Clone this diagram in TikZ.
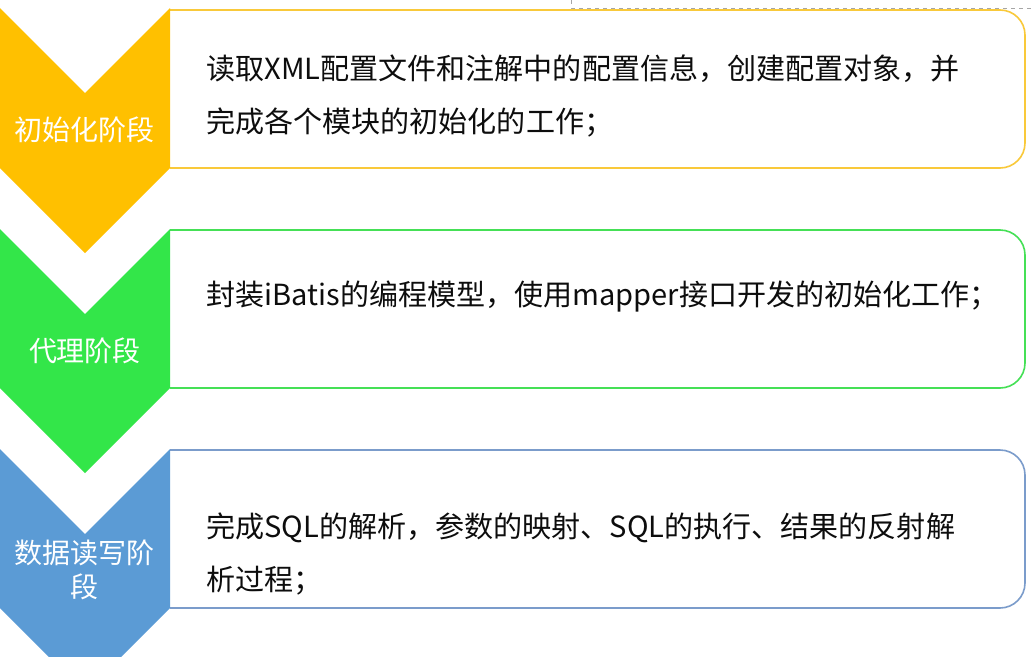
\documentclass[tikz,border=0pt]{standalone}
\usepackage{fontspec}
\usepackage{tikz}
\newfontfamily\cjk{Noto Sans CJK SC}
\definecolor{stageyellow}{HTML}{FFC000}
\definecolor{stagegreen}{HTML}{33E649}
\definecolor{stageblue}{HTML}{5B9BD5}
\definecolor{lineyellow}{HTML}{F9C93A}
\definecolor{linegreen}{HTML}{45E056}
\definecolor{lineblue}{HTML}{7B9CCB}
\definecolor{bodyblack}{HTML}{0D0D0D}
\tikzset{
  boxline/.style={line width=1.2pt},
  labeltext/.style={text=white, align=center, inner sep=0pt, font=\cjk\fontsize{21pt}{25.5pt}\selectfont},
  bodytext/.style={text=bodyblack, align=left, anchor=west, inner sep=0pt, font=\cjk\fontsize{21.8pt}{39.75pt}\selectfont}
}

\begin{document}
\begin{tikzpicture}[x=0.75pt,y=-0.75pt]
				\clip (0,0) rectangle (1033,657);
				\fill[white] (0,0) rectangle (1033,657);
				% text boxes, rounded on the right only
				\draw[boxline, lineyellow] (170,10) -- (1000,10) arc[start angle=-90, end angle=0, radius=25] -- (1025,143) arc[start angle=0, end angle=90, radius=25] -- (170,168);
				\draw[boxline, linegreen] (170,230) -- (1000,230) arc[start angle=-90, end angle=0, radius=25] -- (1025,363) arc[start angle=0, end angle=90, radius=25] -- (170,388);
				\draw[boxline, lineblue] (170,450) -- (1000,450) arc[start angle=-90, end angle=0, radius=25] -- (1025,583) arc[start angle=0, end angle=90, radius=25] -- (170,608);
				
				% stage chevrons
				\fill[stageyellow] (0,8) -- (85,93) -- (170,8) -- (170,168) -- (85,253) -- (0,168) -- cycle;
				\fill[stagegreen] (0,229) -- (85,314) -- (170,229) -- (170,388) -- (85,473) -- (0,388) -- cycle;
				\fill[stageblue] (0,449) -- (85,534) -- (170,449) -- (170,608) -- (85,693) -- (0,608) -- cycle;
				
				\draw[gray!70, dashed, line width=0.5pt] (571,0) -- (571,8) -- (1033,8);
				
				\node[labeltext] (init) at (85,130) {初始化阶段};
				\node[labeltext] (proxy) at (85,351) {代理阶段};
				\node[labeltext] (rw) at (85,570) {数据读写阶\\段};
				
				\node[bodytext] (initdesc) at (206,96) {读取XML配置文件和注解中的配置信息，创建配置对象，并\\完成各个模块的初始化的工作；};
				\node[bodytext] (proxydesc) at (206,297) {封装iBatis的编程模型，使用mapper接口开发的初始化工作；};
				\node[bodytext] (rwdesc) at (206,554) {完成SQL的解析，参数的映射、SQL的执行、结果的反射解\\析过程；};
\end{tikzpicture}
\end{document}
